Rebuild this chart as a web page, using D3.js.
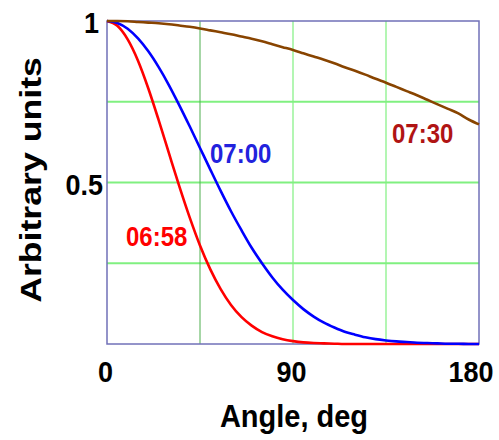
<!DOCTYPE html>
<html>
<head>
<meta charset="utf-8">
<script src="https://cdn.jsdelivr.net/npm/d3@7"></script>
<style>
  html, body { margin: 0; padding: 0; background: #ffffff; }
  svg { display: block; }
  text { font-family: "Liberation Sans", Arial, sans-serif; font-weight: bold; }
</style>
</head>
<body>
<svg id="chart" width="499" height="440"></svg>
<script>
// Angle samples, degrees
const angles = [0, 5, 10, 15, 20, 25, 30, 35, 40, 45, 50, 55, 60, 65, 70, 75, 80, 85, 90,
  95, 100, 105, 110, 115, 120, 125, 130, 135, 140, 145, 150, 155, 160, 165, 170, 175, 180];

// Normalised intensity, one series per time of day
const series0658 = [1.000, 0.985, 0.943, 0.877, 0.791, 0.693, 0.590, 0.488, 0.392, 0.305,
  0.231, 0.170, 0.121, 0.084, 0.057, 0.037, 0.024, 0.015, 0.009, 0.005, 0.003, 0.002,
  0.001, 0.000, 0.000, 0.000, 0.000, 0.000, 0.000, 0.000, 0.000, 0.000, 0.000, 0.000,
  0.000, 0.000, 0.000];
const series0700 = [1.000, 0.994, 0.976, 0.946, 0.906, 0.857, 0.801, 0.739, 0.674, 0.607,
  0.540, 0.474, 0.411, 0.353, 0.298, 0.250, 0.206, 0.168, 0.136, 0.108, 0.085, 0.066,
  0.051, 0.038, 0.029, 0.021, 0.015, 0.011, 0.008, 0.006, 0.004, 0.003, 0.002, 0.001,
  0.001, 0.000, 0.000];
const series0730 = [1.000, 1.000, 0.999, 0.997, 0.995, 0.993, 0.990, 0.986, 0.982, 0.977,
  0.971, 0.965, 0.959, 0.952, 0.945, 0.937, 0.928, 0.919, 0.910, 0.900, 0.890, 0.880,
  0.869, 0.857, 0.846, 0.834, 0.821, 0.809, 0.796, 0.783, 0.770, 0.756, 0.742, 0.728,
  0.714, 0.695, 0.680];

const seriesNames = ["06:58", "07:00", "07:30"];
const xTicks = [0, 90, 180];
const yTicks = [0.5, 1];
const xGrid = [45, 90, 135];
const yGrid = [0.25, 0.5, 0.75];

const svg = d3.select("#chart");
const plotLeft = 107, plotRight = 479, plotTop = 21, plotBottom = 344;

const x = d3.scaleLinear().domain([0, 180]).range([plotLeft, plotRight]);
const y = d3.scaleLinear().domain([0, 1]).range([plotBottom, plotTop]);

// grid
const grid = svg.append("g");
grid.selectAll("line.h").data(yGrid).join("line")
  .attr("class", "h")
  .attr("x1", plotLeft).attr("x2", plotRight)
  .attr("y1", d => y(d)).attr("y2", d => y(d))
  .attr("stroke", "#80f080").attr("stroke-width", 2);
grid.selectAll("line.v").data(xGrid).join("line")
  .attr("class", "v")
  .attr("x1", d => x(d)).attr("x2", d => x(d))
  .attr("y1", plotTop).attr("y2", plotBottom)
  .attr("stroke", d => d === 45 ? "#4fae4f" : "#80f080")
  .attr("stroke-width", d => d === 45 ? 1 : 1.2);

// frame
svg.append("rect")
  .attr("x", plotLeft).attr("y", plotTop)
  .attr("width", plotRight - plotLeft).attr("height", plotBottom - plotTop)
  .attr("fill", "none").attr("stroke", "#7070b8").attr("stroke-width", 1.5);

// curves
const line = d3.line()
  .x((d, i) => x(angles[i]))
  .y(d => y(d))
  .curve(d3.curveMonotoneX);

const curves = [
  { values: series0658, color: "#ff0000" },
  { values: series0700, color: "#0000ff" },
  { values: series0730, color: "#884400" }
];
svg.append("g").selectAll("path").data(curves).join("path")
  .attr("d", d => line(d.values))
  .attr("fill", "none")
  .attr("stroke", d => d.color)
  .attr("stroke-width", 2.6)
  .attr("stroke-linejoin", "round");

// axes
const xAxis = svg.append("g")
  .attr("transform", `translate(0,${plotBottom})`)
  .call(d3.axisBottom(x).tickValues(xTicks).tickSize(0).tickFormat(d3.format("d")));
xAxis.select(".domain").remove();
xAxis.selectAll("text")
  .attr("font-family", "Liberation Sans, Arial, sans-serif")
  .attr("font-weight", "bold")
  .attr("font-size", 27)
  .attr("fill", "#000")
  .attr("dy", null)
  .attr("y", 0)
  .attr("text-anchor", d => d === 180 ? "end" : "middle")
  .attr("transform", d => `translate(${d === 180 ? 14 : -2},37.5) scale(1,1.12)`);

const yAxis = svg.append("g")
  .attr("transform", `translate(${plotLeft},0)`)
  .call(d3.axisLeft(y).tickValues(yTicks).tickSize(0).tickFormat(d => d === 1 ? "1" : d3.format(".1f")(d)));
yAxis.select(".domain").remove();
yAxis.selectAll("text")
  .attr("font-family", "Liberation Sans, Arial, sans-serif")
  .attr("font-weight", "bold")
  .attr("font-size", 27)
  .attr("fill", "#000")
  .attr("dy", null)
  .attr("x", 0)
  .attr("text-anchor", "end")
  .attr("transform", d => `translate(${d === 1 ? -8 : -4},11.5) scale(1,1.12)`);

// axis titles
svg.append("text")
  .attr("transform", "translate(294,427) scale(1,1.1)")
  .attr("text-anchor", "middle")
  .attr("font-size", 29)
  .attr("fill", "#000")
  .text("Angle, deg");

svg.append("text")
  .attr("transform", "translate(41,180) scale(1,1.23) rotate(-90)")
  .attr("text-anchor", "middle")
  .attr("font-size", 29)
  .attr("fill", "#000")
  .text("Arbitrary units");

// curve labels
const labels = [
  { text: seriesNames[0], x: 126, y: 246, color: "#ff0000" },
  { text: seriesNames[1], x: 210, y: 163, color: "#2222dd" },
  { text: seriesNames[2], x: 392, y: 143, color: "#b01414" }
];
svg.append("g").selectAll("text").data(labels).join("text")
  .attr("transform", d => `translate(${d.x},${d.y}) scale(1,1.18)`)
  .attr("font-size", 24)
  .attr("fill", d => d.color)
  .text(d => d.text);
</script>
</body>
</html>
